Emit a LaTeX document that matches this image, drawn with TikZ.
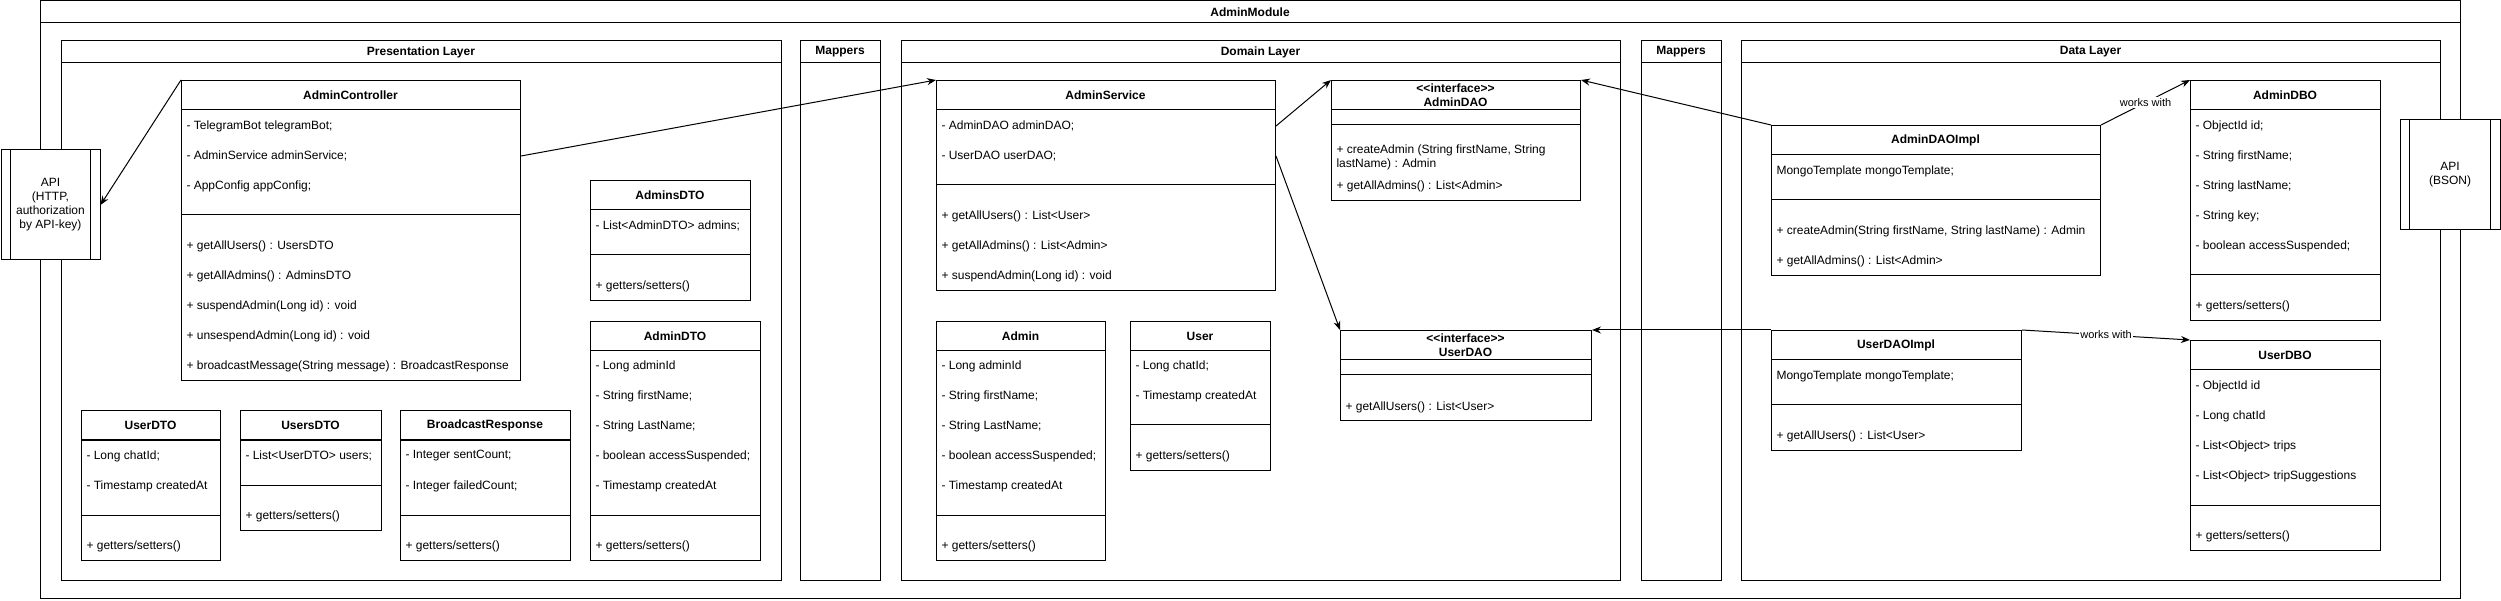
\documentclass[tikz,border=0pt]{standalone}
\usepackage{fontspec}
\setmainfont{Liberation Sans}
\usetikzlibrary{arrows.meta}

\begin{document}
\begin{tikzpicture}[x=1pt, y=-1pt, line width=1pt, font=\fontsize{12}{14}\selectfont,
  box/.style={draw, fill=white, anchor=north west, inner sep=0pt},
  row/.style={anchor=west, inner sep=0pt, align=left},
  ttl/.style={font=\fontsize{12}{14}\selectfont\bfseries, align=center, inner sep=0pt},
  api/.style={draw, fill=white, align=center, inner sep=0pt},
  arr/.style={-{Stealth[length=9pt, width=7pt]}},
  lbl/.style={fill=white, inner sep=1pt, font=\fontsize{11}{13}\selectfont}]
  \useasboundingbox (0,0) rectangle (2501,601);
  % module frame
  \draw (40,1) rectangle (2460,598);
  \draw (40,23) -- (2460,23);
  \node[ttl] (mod) at (1250,12) {AdminModule};
  % layers
  \foreach \xa/\xb/\lname [count=\i] in {61/781/Presentation Layer, 800/880/Mappers,
      901/1620/Domain Layer, 1641/1721/Mappers, 1741/2440/Data Layer} {
    \draw (\xa,41) rectangle (\xb,580);
    \draw (\xa,63) -- (\xb,63);
    \node[ttl] (L\i) at ({(\xa+\xb)/2},52) {\lname};
  }
  % class boxes: name/left/width/top/header/separator/bottom/title
  \foreach \nm/\cx/\cw/\ctop/\chd/\csep/\cbot/\ctitle in {
      ctrl/181/339/80/110/215/380/AdminController,
      adsdto/590/160/180/210/255/300/AdminsDTO,
      addto/590/170/321/351/515/560/AdminDTO,
      usdto/81/139/410/440/515/560/UserDTO,
      ussdto/240/141/410/440/485/530/UsersDTO,
      bresp/400/170/410/440/515/560/BroadcastResponse,
      svc/936/339/80/110/185/290/AdminService,
      adao/1331/249/80/110/125/200/{<\kern0pt<interface>\kern0pt>\\AdminDAO},
      adm/936/169/321/351/515/560/Admin,
      usr/1130/140/321/351/425/470/User,
      udao/1340/251/330/360/375/420/{<\kern0pt<interface>\kern0pt>\\UserDAO},
      adaoi/1771/329/125/155/200/275/AdminDAOImpl,
      adbo/2190/190/80/110/275/320/AdminDBO,
      udaoi/1771/250/330/360/405/450/UserDAOImpl,
      udbo/2190/190/340/370/505/550/UserDBO} {
    \node[box, minimum width={\cw*1pt}, minimum height={(\cbot-\ctop)*1pt}] (\nm) at (\cx,\ctop) {};
    \draw (\cx,\chd) -- ++(\cw,0);
    \draw (\cx,\csep) -- ++(\cw,0);
    \node[ttl] (\nm-t) at (\cx+\cw/2,\ctop+15) {\ctitle};
  }
  % presentation layer rows
  \foreach \y/\txt [count=\i] in {126/{- TelegramBot telegramBot;}, 156/{- AdminService adminService;},
      186/{- AppConfig appConfig;}, 246/{+ getAllUsers() : UsersDTO}, 276/{+ getAllAdmins() : AdminsDTO},
      306/{+ suspendAdmin(Long id) : void}, 336/{+ unsespendAdmin(Long id) : void},
      366/{+ broadcastMessage(String message) : BroadcastResponse}}
    \node[row] (ctrlR\i) at (186,\y) {\txt};
  \foreach \y/\txt [count=\i] in {226/{- List<AdminDTO> admins;}, 286/{+ getters/setters()}}
    \node[row] (adsdtoR\i) at (595,\y) {\txt};
  \foreach \y/\txt [count=\i] in {366/{- Long adminId}, 396/{- String firstName;}, 426/{- String LastName;},
      456/{- boolean accessSuspended;}, 486/{- Timestamp createdAt}, 546/{+ getters/setters()}}
    \node[row] (addtoR\i) at (595,\y) {\txt};
  \foreach \y/\txt [count=\i] in {456/{- Long chatId;}, 486/{- Timestamp createdAt}, 546/{+ getters/setters()}}
    \node[row] (usdtoR\i) at (86,\y) {\txt};
  \foreach \y/\txt [count=\i] in {456/{- List<UserDTO> users;}, 516/{+ getters/setters()}}
    \node[row] (ussdtoR\i) at (245,\y) {\txt};
  \foreach \y/\txt [count=\i] in {456/{- Integer sentCount;}, 486/{- Integer failedCount;}, 546/{+ getters/setters()}}
    \node[row] (brespR\i) at (405,\y) {\txt};
  % domain layer rows
  \foreach \y/\txt [count=\i] in {126/{- AdminDAO adminDAO;}, 156/{- UserDAO userDAO;},
      216/{+ getAllUsers() : List<User>}, 246/{+ getAllAdmins() : List<Admin>}, 276/{+ suspendAdmin(Long id) : void}}
    \node[row] (svcR\i) at (941,\y) {\txt};
  \foreach \y/\txt [count=\i] in {157/{+ createAdmin (String firstName, String\\lastName) : Admin},
      186/{+ getAllAdmins() : List<Admin>}}
    \node[row] (adaoR\i) at (1336,\y) {\txt};
  \foreach \y/\txt [count=\i] in {366/{- Long adminId}, 396/{- String firstName;}, 426/{- String LastName;},
      456/{- boolean accessSuspended;}, 486/{- Timestamp createdAt}, 546/{+ getters/setters()}}
    \node[row] (admR\i) at (941,\y) {\txt};
  \foreach \y/\txt [count=\i] in {366/{- Long chatId;}, 396/{- Timestamp createdAt}, 456/{+ getters/setters()}}
    \node[row] (usrR\i) at (1135,\y) {\txt};
  \node[row] (udaoR1) at (1345,407) {+ getAllUsers() : List<User>};
  % data layer rows
  \foreach \y/\txt [count=\i] in {171/{MongoTemplate mongoTemplate;},
      231/{+ createAdmin(String firstName, String lastName) : Admin}, 261/{+ getAllAdmins() : List<Admin>}}
    \node[row] (adaoiR\i) at (1776,\y) {\txt};
  \foreach \y/\txt [count=\i] in {126/{- ObjectId id;}, 156/{- String firstName;}, 186/{- String lastName;},
      216/{- String key;}, 246/{- boolean accessSuspended;}, 306/{+ getters/setters()}}
    \node[row] (adboR\i) at (2195,\y) {\txt};
  \foreach \y/\txt [count=\i] in {376/{MongoTemplate mongoTemplate;}, 436/{+ getAllUsers() : List<User>}}
    \node[row] (udaoiR\i) at (1776,\y) {\txt};
  \foreach \y/\txt [count=\i] in {386/{- ObjectId id}, 416/{- Long chatId}, 446/{- List<Object> trips},
      476/{- List<Object> tripSuggestions}, 536/{+ getters/setters()}}
    \node[row] (udboR\i) at (2195,\y) {\txt};
  % external APIs
  \node[api, minimum width=99pt, minimum height=110pt] (apiL) at (50.5,205) {API\\(HTTP,\\authorization\\by API-key)};
  \draw ([xshift=10pt]apiL.north west) -- ([xshift=10pt]apiL.south west);
  \draw ([xshift=-10pt]apiL.north east) -- ([xshift=-10pt]apiL.south east);
  \node[api, minimum width=100pt, minimum height=110pt] (apiR) at (2450,175) {API\\(BSON)};
  \draw ([xshift=10pt]apiR.north west) -- ([xshift=10pt]apiR.south west);
  \draw ([xshift=-10pt]apiR.north east) -- ([xshift=-10pt]apiR.south east);
  % connectors
  \draw[arr] (ctrl.north west) -- (apiL.east);
  \draw[arr] (ctrl.east |- ctrlR2) -- (svc.north west);
  \draw[arr] (svc.east |- svcR1) -- (adao.north west);
  \draw[arr] (svc.east |- svcR2) -- (udao.north west);
  \draw[arr] (adaoi.north west) -- (adao.north east);
  \draw[arr] (udaoi.north west) -- (udao.north east);
  \draw[arr] (adaoi.north east) -- node[lbl] (w1) {works with} (adbo.north west);
  \draw[arr] (udaoi.north east) -- node[lbl] (w2) {works with} (udbo.north west);
\end{tikzpicture}
\end{document}
